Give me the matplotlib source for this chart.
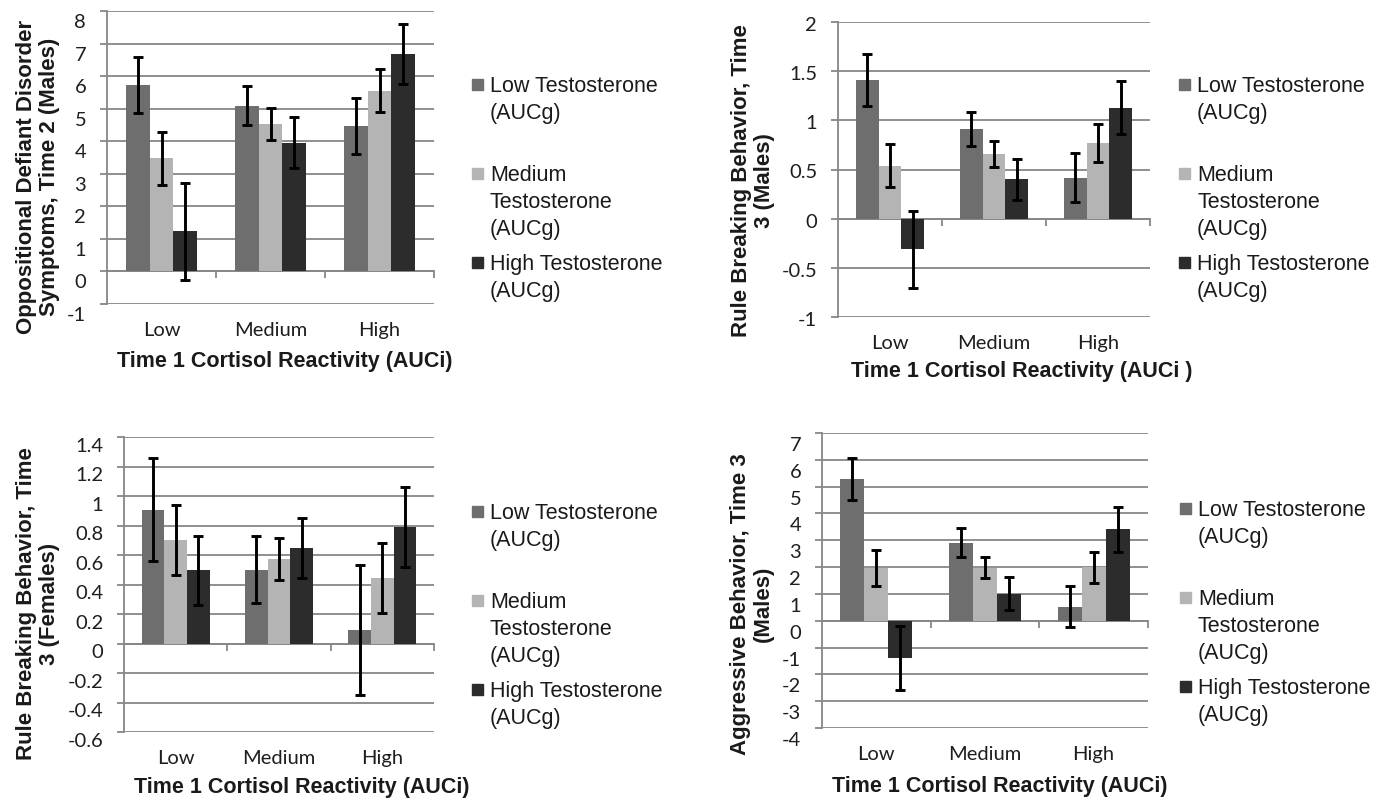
import numpy as np
import matplotlib.pyplot as plt
import matplotlib.transforms as mtransforms
from matplotlib.patches import Rectangle
from matplotlib.ticker import FuncFormatter, MultipleLocator

plt.rcParams['axes.unicode_minus'] = False

W, H = 1386, 803

cortisol = ["Low", "Medium", "High"]
series = ["Low Testosterone\n(AUCg)", "Medium\nTestosterone\n(AUCg)", "High Testosterone\n(AUCg)"]
colors = ["#6e6e6e", "#b4b4b4", "#2c2c2c"]

# ODD symptoms, time 2 (males)
odd_low = [5.73, 5.09, 4.46]
odd_low_err = [0.87, 0.60, 0.86]
odd_med = [3.48, 4.53, 5.55]
odd_med_err = [0.81, 0.48, 0.66]
odd_high = [1.23, 3.95, 6.67]
odd_high_err = [1.49, 0.78, 0.92]

# rule breaking, time 3 (males)
rbm_low = [1.41, 0.91, 0.415]
rbm_low_err = [0.26, 0.17, 0.25]
rbm_med = [0.54, 0.656, 0.768]
rbm_med_err = [0.215, 0.13, 0.19]
rbm_high = [-0.31, 0.40, 1.128]
rbm_high_err = [0.39, 0.21, 0.27]

# rule breaking, time 3 (females)
rbf_low = [0.908, 0.50, 0.093]
rbf_low_err = [0.347, 0.227, 0.44]
rbf_med = [0.702, 0.573, 0.442]
rbf_med_err = [0.236, 0.143, 0.237]
rbf_high = [0.496, 0.646, 0.793]
rbf_high_err = [0.235, 0.203, 0.271]

# aggressive behavior, time 3 (males)
agg_low = [5.27, 2.91, 0.53]
agg_low_err = [0.78, 0.53, 0.77]
agg_med = [1.96, 1.98, 1.99]
agg_med_err = [0.66, 0.40, 0.57]
agg_high = [-1.39, 1.01, 3.41]
agg_high_err = [1.20, 0.62, 0.83]

panels = [
    dict(vals=[odd_low, odd_med, odd_high], errs=[odd_low_err, odd_med_err, odd_high_err],
         ylim=(-1, 8), step=1,
         ylabel="Oppositional Defiant Disorder\nSymptoms, Time 2 (Males)",
         xlabel="Time 1 Cortisol Reactivity (AUCi)",
         box=(107, 12, 434, 305), tick_shift=9, ylab_xy=(38, 177), xlab_xy=(285, 362),
         leg_xy=(472, 85)),
    dict(vals=[rbm_low, rbm_med, rbm_high], errs=[rbm_low_err, rbm_med_err, rbm_high_err],
         ylim=(-1, 2), step=0.5,
         ylabel="Rule Breaking Behavior, Time\n3 (Males)",
         xlabel="Time 1 Cortisol Reactivity (AUCi )",
         box=(838, 23, 1150, 318), tick_shift=1, ylab_xy=(753, 181), xlab_xy=(1022, 372),
         leg_xy=(1179, 85)),
    dict(vals=[rbf_low, rbf_med, rbf_high], errs=[rbf_low_err, rbf_med_err, rbf_high_err],
         ylim=(-0.6, 1.4), step=0.2,
         ylabel="Rule Breaking Behavior, Time\n3 (Females)",
         xlabel="Time 1 Cortisol Reactivity (AUCi)",
         box=(124, 438, 434, 733), tick_shift=7, ylab_xy=(38, 604), xlab_xy=(302, 788),
         leg_xy=(472, 512)),
    dict(vals=[agg_low, agg_med, agg_high], errs=[agg_low_err, agg_med_err, agg_high_err],
         ylim=(-4, 7), step=1,
         ylabel="Aggressive Behavior, Time 3\n(Males)",
         xlabel="Time 1 Cortisol Reactivity (AUCi)",
         box=(822, 434, 1148, 729), tick_shift=10, ylab_xy=(752, 604), xlab_xy=(1000, 787),
         leg_xy=(1180, 509)),
]

grid_col = "#878787"
fig = plt.figure(figsize=(W / 100, H / 100), dpi=100)


def fx(x):
    return x / W


def fy(y):
    return 1 - y / H


x = np.arange(len(cortisol))
bw = 0.22

for p in panels:
    l, t, r, b = p["box"]
    ax = fig.add_axes([fx(l), fy(b), (r - l) / W, (b - t) / H])
    for i in range(3):
        ax.bar(x + (i - 1) * bw, p["vals"][i], bw, color=colors[i], zorder=2)
        ax.errorbar(x + (i - 1) * bw, p["vals"][i], yerr=p["errs"][i], fmt="none",
                    ecolor="black", elinewidth=2.1, capsize=3.6, capthick=2.1, zorder=3)
    ax.set_xlim(-0.5, 2.5)
    ax.set_ylim(*p["ylim"])
    ax.yaxis.set_major_locator(MultipleLocator(p["step"]))
    ax.yaxis.set_major_formatter(FuncFormatter(lambda v, pos: f"{round(v, 2):g}"))
    ax.set_axisbelow(True)
    ax.grid(axis="y", color=grid_col, linewidth=1.3)
    for s in ["top", "right", "bottom"]:
        ax.spines[s].set_visible(False)
    ax.spines["left"].set_color(grid_col)
    ax.spines["left"].set_linewidth(1.3)
    ax.tick_params(axis="y", direction="out", length=5, width=1.3, color=grid_col,
                   pad=10, labelsize=14.5)
    ax.set_xticks(x)
    ax.set_xticklabels(cortisol)
    ax.tick_params(axis="x", length=0, pad=12, labelsize=14.5)
    for lab in ax.get_xticklabels() + ax.get_yticklabels():
        lab.set_fontfamily("Lato")
        lab.set_color("#1e1e1e")
    off = mtransforms.ScaledTranslation(0, -p["tick_shift"] / 100, fig.dpi_scale_trans)
    for lab in ax.get_yticklabels():
        lab.set_transform(lab.get_transform() + off)

    # category axis line at zero with boundary ticks
    y0, y1 = p["ylim"]
    sec = ax.secondary_xaxis((0 - y0) / (y1 - y0))
    sec.set_xticks([0.5, 1.5, 2.5])
    sec.set_xticklabels([])
    sec.tick_params(direction="out", length=5, width=1.3, color=grid_col)
    for s in sec.spines.values():
        s.set_color(grid_col)
        s.set_linewidth(1.3)

    fig.text(fx(p["ylab_xy"][0]), fy(p["ylab_xy"][1]), p["ylabel"], rotation=90,
             ha="center", va="center", multialignment="center", linespacing=1.1,
             fontsize=16, fontweight="bold", family="Liberation Sans", color="#1a1a1a")
    fig.text(fx(p["xlab_xy"][0]), fy(p["xlab_xy"][1]), p["xlabel"], ha="center",
             va="center", fontsize=15.5, fontweight="bold", family="Liberation Sans",
             color="#1a1a1a")

    # legend
    lx, ly = p["leg_xy"]
    for i, name in enumerate(series):
        ey = ly + 89 * i
        fig.add_artist(Rectangle((fx(lx), fy(ey + 5.5)), 11 / W, 11 / H,
                                 transform=fig.transFigure, color=colors[i]))
        for k, line in enumerate(name.split("\n")):
            fig.text(fx(lx + 18), fy(ey + 27 * k + 7), line, ha="left", va="baseline",
                     fontsize=15.5, family="Liberation Sans", color="#1a1a1a")

fig.savefig("out.png", dpi=100)
